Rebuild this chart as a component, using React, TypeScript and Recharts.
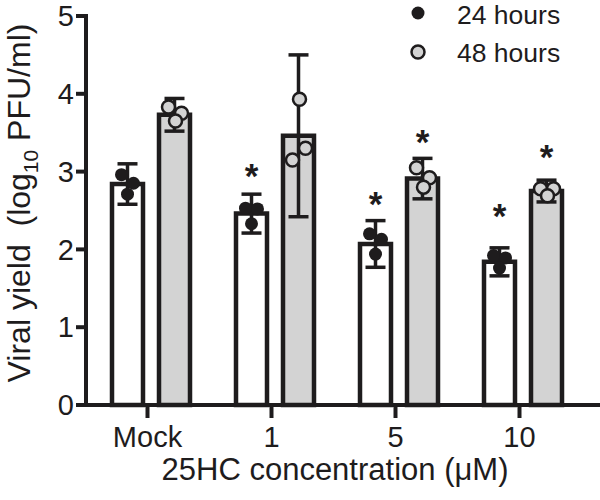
import React from 'react';
import { ComposedChart, Bar, Scatter, XAxis, YAxis, ErrorBar, Legend } from 'recharts';

const categories = ['Mock', '1', '5', '10'];
const mean24 = [2.84, 2.46, 2.07, 1.84];
const sd24 = [0.26, 0.25, 0.3, 0.18];
const mean48 = [3.73, 3.46, 2.91, 2.75];
const sd48 = [0.21, 1.04, 0.26, 0.14];
const rep24a = [2.96, 2.53, 2.2, 1.92];
const rep24b = [2.85, 2.52, 2.13, 1.89];
const rep24c = [2.71, 2.33, 1.94, 1.76];
const rep48a = [3.83, 3.15, 3.05, 2.78];
const rep48b = [3.75, 3.3, 2.92, 2.78];
const rep48c = [3.65, 3.93, 2.8, 2.69];
const star24 = [null, 3.05, 2.69, 2.53];
const star48 = [null, null, 3.48, 3.29];
const yTicks = [0, 1, 2, 3, 4, 5];
const seriesNames = ['24 hours', '48 hours'];
const xTitle = '25HC concentration (\u03bcM)';

const data = categories.map((cat, i) => ({
  cat,
  m24: mean24[i],
  e24: sd24[i],
  m48: mean48[i],
  e48: sd48[i],
  a24: rep24a[i],
  b24: rep24b[i],
  c24: rep24c[i],
  a48: rep48a[i],
  b48: rep48b[i],
  c48: rep48c[i],
  s24: star24[i],
  s48: star48[i],
}));

const INK = '#1e1c1d';
const GREY = '#d3d3d3';
const FONT = '"Liberation Sans", Arial, Helvetica, sans-serif';
const BAR = 31;
const GAP = 16;
const SHIFT = (BAR + GAP) / 2;

const dotShape = (shift: number, fill: string, strokeW: number) => (props: any) => {
  const { cx, cy } = props;
  if (cx == null || cy == null || Number.isNaN(cy)) return <g />;
  return <circle cx={cx + shift} cy={cy} r={6.5} fill={fill} stroke={INK} strokeWidth={strokeW} />;
};

const starShape = (shift: number, key: string) => (props: any) => {
  const { cx, cy, payload } = props;
  if (!payload || payload[key] == null || cy == null || Number.isNaN(cy)) return <g />;
  return (
    <text x={cx + shift} y={cy + 20} textAnchor="middle" fontSize={35} fontWeight="bold" fontFamily={FONT} fill={INK}>
      *
    </text>
  );
};

const XTick = (props: any) => {
  const { x, y, payload } = props;
  const tx = x - 3.5;
  return (
    <g>
      <line x1={tx} y1={y} x2={tx} y2={y + 13} stroke={INK} strokeWidth={4} />
      <text x={tx} y={y + 42} textAnchor="middle" fontSize={29} fontFamily={FONT} fill={INK}>
        {payload.value}
      </text>
    </g>
  );
};

const LegendBox = () => (
  <svg width={200} height={72} style={{ display: 'block' }}>
    <circle cx={18} cy={13} r={6.5} fill={INK} />
    <text x={57} y={24} fontSize={26.5} fontFamily={FONT} fill={INK}>{seriesNames[0]}</text>
    <circle cx={18} cy={52} r={6.5} fill={GREY} stroke={INK} strokeWidth={2.5} />
    <text x={57} y={62} fontSize={26.5} fontFamily={FONT} fill={INK}>{seriesNames[1]}</text>
  </svg>
);

export default function App() {
  return (
    <div style={{ position: 'absolute', left: 0, top: 0, background: '#fff' }}>
      <ComposedChart
        width={600}
        height={500}
        data={data}
        margin={{ top: 16, right: 0, bottom: 35, left: 0 }}
        barGap={GAP}
      >
        <XAxis
          dataKey="cat"
          type="category"
          height={60}
          padding={{ left: 3, right: 15 }}
          axisLine={{ stroke: INK, strokeWidth: 4, strokeLinecap: 'square' }}
          tickLine={false}
          tickSize={0}
          tickMargin={0}
          tick={<XTick />}
          interval={0}
          label={{
            content: () => (
              <text x={335} y={480} textAnchor="middle" fontSize={31} fontFamily={FONT} fill={INK}>
                {xTitle}
              </text>
            ),
          }}
        />
        <XAxis xAxisId="e" dataKey="cat" type="category" hide padding={{ left: 3, right: 15 }} />
        <YAxis
          width={86}
          domain={[0, 5]}
          ticks={yTicks}
          interval={0}
          tickSize={10}
          axisLine={{ stroke: INK, strokeWidth: 4, strokeLinecap: 'square' }}
          tickLine={{ stroke: INK, strokeWidth: 4 }}
          tick={{ fontSize: 29, fontFamily: FONT, fill: INK }}
          label={{
            content: () => (
              <text
                x={30}
                y={203}
                transform="rotate(-90, 30, 203)"
                textAnchor="middle"
                fontSize={32}
                fontFamily={FONT}
                fill={INK}
                style={{ whiteSpace: 'pre' }}
              >
                {'Viral yield  (log'}
                <tspan fontSize={21} dy={8}>10</tspan>
                <tspan dy={-8}>{' PFU/ml)'}</tspan>
              </text>
            ),
          }}
        />
        <Legend
          layout="horizontal"
          verticalAlign="middle"
          align="center"
          content={<LegendBox />}
          wrapperStyle={{ position: 'absolute', left: 400, top: 0, width: 200, height: 72 }}
        />
        <Bar dataKey="m24" barSize={BAR} fill="#ffffff" stroke={INK} strokeWidth={4.5} isAnimationActive={false} />
        <Bar dataKey="m48" barSize={BAR} fill={GREY} stroke={INK} strokeWidth={4.5} isAnimationActive={false} />
        <Scatter dataKey="a24" shape={dotShape(-SHIFT - 6, INK, 0)} isAnimationActive={false} />
        <Scatter dataKey="b24" shape={dotShape(-SHIFT + 6, INK, 0)} isAnimationActive={false} />
        <Scatter dataKey="c24" shape={dotShape(-SHIFT, INK, 0)} isAnimationActive={false} />
        <Scatter dataKey="a48" shape={dotShape(SHIFT - 6, GREY, 2.5)} isAnimationActive={false} />
        <Scatter dataKey="b48" shape={dotShape(SHIFT + 7, GREY, 2.5)} isAnimationActive={false} />
        <Scatter dataKey="c48" shape={dotShape(SHIFT + 1, GREY, 2.5)} isAnimationActive={false} />
        <Bar xAxisId="e" dataKey="m24" barSize={BAR} fill="none" stroke="none" isAnimationActive={false} zIndex={700}>
          <ErrorBar dataKey="e24" width={10} strokeWidth={3.5} stroke={INK} direction="y" isAnimationActive={false} />
        </Bar>
        <Bar xAxisId="e" dataKey="m48" barSize={BAR} fill="none" stroke="none" isAnimationActive={false} zIndex={700}>
          <ErrorBar dataKey="e48" width={10} strokeWidth={3.5} stroke={INK} direction="y" isAnimationActive={false} />
        </Bar>
        <Scatter dataKey="s24" shape={starShape(-SHIFT, 's24')} isAnimationActive={false} />
        <Scatter dataKey="s48" shape={starShape(SHIFT, 's48')} isAnimationActive={false} />
      </ComposedChart>
    </div>
  );
}
